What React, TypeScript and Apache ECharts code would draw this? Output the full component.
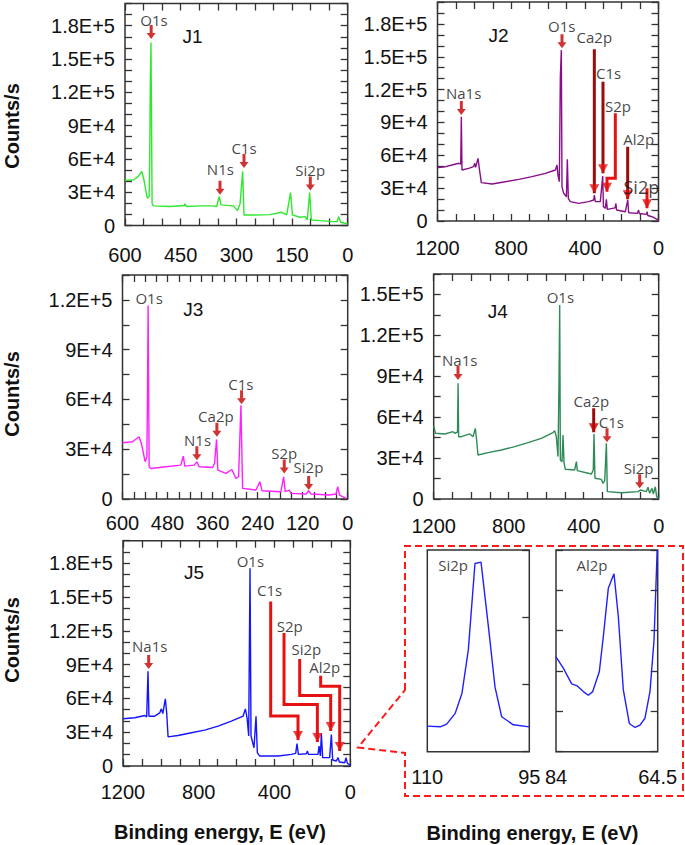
import React, { useEffect, useRef } from 'react';
import * as echarts from 'echarts';

// ---------------- DATA ----------------
// Survey spectra: [binding energy (eV), counts/s]
const j1Spectrum: [number, number][] = [
  [600, 40600], [577, 41200], [564, 44200], [555, 48800], [549, 41200], [540, 24600], [535, 26100],
  [533.6, 56300], [531.8, 128800], [530, 164900], [527, 20100], [523.7, 17700], [479, 17100], [440, 18000],
  [438.4, 19500], [434, 17100], [398, 17700], [362, 17700], [353, 17100], [346, 26100], [341.4, 18600],
  [308, 17700], [297, 13500], [290, 19500], [283, 48800], [279.4, 9500], [254, 9500], [209, 9800],
  [178, 11900], [164.5, 9500], [154, 29700], [149, 9500], [128.6, 7400], [115, 8000], [109, 5000],
  [102.5, 29700], [98, 5000], [74.7, 4400], [39, 3500], [28, 3500], [24.4, 8000], [19, 2900], [0, 1400],
];
const j2Spectrum: [number, number][] = [
  [1199, 48700], [1157, 49600], [1121, 51100], [1085, 52700], [1074, 52000], [1070.6, 95300], [1067, 46600],
  [1031, 48100], [1004, 49600], [998, 52700], [993, 49000], [980, 57200], [973, 48100], [962, 35000],
  [904, 33800], [832, 35900], [759, 38000], [687, 40500], [614, 43500], [560, 46600], [551, 51100],
  [546, 42000], [538.5, 35900], [533, 131800], [527.6, 156200], [524, 31300], [515, 25300], [500, 22200],
  [495, 56300], [489.6, 20700], [479, 17700], [433, 16100], [379, 17700], [352, 19200], [348.4, 23700],
  [343, 17700], [316, 17700], [303, 41100], [299, 13100], [288.7, 11600], [283, 19800], [278, 10600],
  [236, 12000], [231, 16000], [228, 10000], [180, 8500], [167, 19200], [162, 7600], [115, 7000],
  [108, 10000], [104, 6800], [65, 6000], [62, 8500], [58, 5000], [35, 3900], [0, 900],
];
const j3Spectrum: [number, number][] = [
  [600, 33900], [573.5, 34500], [555.7, 37500], [548.6, 32500], [539.7, 22500], [535, 25500], [533.4, 63500],
  [531.7, 116600], [529, 19400], [524.6, 18400], [484.6, 19400], [444.5, 20400], [438, 25800], [434, 19800],
  [409, 20400], [402, 22400], [395.7, 19400], [360, 19000], [354.8, 21400], [349.4, 35900], [346, 17400],
  [324.5, 15400], [308.5, 17800], [298, 12400], [290.7, 13400], [284.5, 56500], [280, 6400], [244.5, 5400],
  [234, 10400], [228.5, 5000], [178, 4400], [170.7, 13400], [166.3, 4400], [155.6, 5400], [151, 3400],
  [111, 3000], [104, 5000], [98, 3000], [49, 2400], [31, 3000], [26.7, 7400], [22, 2400], [4.5, 400],
];
const j4Spectrum: [number, number][] = [
  [1200, 53600], [1191, 48200], [1141, 47700], [1097, 49400], [1088, 48200], [1073, 49000], [1070, 84800],
  [1067, 45700], [1052, 45700], [1008, 47700], [990, 45700], [978, 51800], [971, 43300], [964, 32300],
  [910, 34000], [839, 35900], [768, 38400], [697, 41300], [626, 44500], [564, 48700], [555, 50100],
  [546, 45700], [537, 31100], [532, 83600], [528, 142300], [524.5, 28600], [515.6, 27400], [510.3, 47000],
  [505, 26600], [498, 21800], [448, 21300], [439, 27400], [434, 20800], [359, 18300], [349, 21300],
  [345, 47700], [340, 15200], [306, 14400], [297, 11500], [288, 13400], [279, 40800], [274, 5400],
  [199, 4600], [110, 5400], [98, 6600], [66, 5400], [57, 8600], [48, 4200], [35.6, 7800], [28.5, 3700],
  [18, 9000], [11, 1700], [0, 500],
];
const j5Spectrum: [number, number][] = [
  [1200, 41900], [1138, 42800], [1085, 44800], [1075, 43500], [1068, 84100], [1063, 44200], [1033, 44200],
  [1006, 47200], [997.6, 50700], [990, 46500], [976.5, 59600], [969.4, 47200], [962, 25900], [909.6, 27100],
  [839, 29500], [769, 31900], [698, 35400], [628, 39800], [566, 44200], [554, 50700], [545, 42800],
  [536.4, 26600], [533, 100300], [529.4, 175500], [524.2, 26600], [508.3, 16200], [497.8, 44200],
  [490.7, 11800], [478.4, 8850], [381.6, 8850], [311.2, 10300], [288.3, 11200], [281.3, 20000],
  [274.2, 10300], [232, 10900], [226.7, 13300], [221, 10300], [170.4, 10300], [165, 17700], [158, 8850],
  [152.8, 28900], [145.8, 7400], [109, 7400], [100, 28000], [93, 5300], [73.6, 4400], [64.8, 7400],
  [57.8, 3500], [29.6, 2900], [22.6, 7400], [15.5, 2400], [0, 600],
];

// High-resolution insets (arbitrary units)
const si2pInset: [number, number][] = [
  [110, 0.38], [108.1, 0.37], [107.15, 0.41], [105.9, 0.57], [104.9, 0.87], [103.97, 1.51], [102.99, 2.8],
  [102.1, 2.82], [101.0, 1.85], [100.04, 0.96], [99.06, 0.52], [97.35, 0.4], [95, 0.37],
];
const al2pInset: [number, number][] = [
  [84, 2.35], [82.6, 2.07], [80.99, 1.68], [80.03, 1.64], [78.76, 1.49], [77.8, 1.4], [76.96, 1.49],
  [75.7, 1.98], [74.93, 2.85], [73.97, 4.05], [72.88, 4.41], [72.05, 3.35], [71.09, 1.53], [69.94, 0.7],
  [68.85, 0.6], [67.9, 0.66], [66.94, 0.83], [65.98, 1.49], [65.2, 2.77], [64.6, 5.0],
];

// Peak labels: [text, energy, counts] (text centre)
type Lbl = [string, number, number, number?];
const j1Labels: Lbl[] = [['O1s', 522, 185500], ['N1s', 343, 50900], ['C1s', 279.4, 69900], ['Si2p', 101, 50300]];
const j2Labels: Lbl[] = [
  ['Na1s', 1058, 116600], ['O1s', 525.8, 178100], ['Ca2p', 348.4, 167700], ['C1s', 270.6, 135500],
  ['S2p', 220, 105000], ['Al2p', 107.7, 74600], ['Si2p', 93.2, 30700, 18],
];
const j3Labels: Lbl[] = [
  ['O1s', 529, 121400], ['N1s', 400, 35300], ['Ca2p', 351.2, 50100], ['C1s', 284.5, 69500],
  ['S2p', 169, 27900], ['Si2p', 104.5, 19000],
];
const j4Labels: Lbl[] = [['Na1s', 1061.5, 102000], ['O1s', 524.5, 148400], ['Ca2p', 359, 72100], ['C1s', 252.5, 56700], ['Si2p', 107, 22500]];
const j5Labels: Lbl[] = [
  ['Na1s', 1059.2, 106200], ['O1s', 527.7, 182300], ['C1s', 425.6, 156300], ['S2p', 320, 124500],
  ['Si2p', 232, 104000], ['Al2p', 135.2, 87800],
];
const si2pInsetLabels: Lbl[] = [['Si2p', 106.2, 2.78]];
const al2pInsetLabels: Lbl[] = [['Al2p', 77.1, 4.63]];

// Short arrows: tip at [energy, counts]
const j1Arrows: [number, number][] = [[529.5, 168000], [344, 27600], [279.4, 51800], [100.7, 31600]];
const j2Arrows: [number, number][] = [[1070.6, 96800], [524, 157700]];
const j3Arrows: [number, number][] = [[401.9, 23400], [348.5, 37500], [282.8, 57100], [169, 15400], [104, 5400]];
const j4Arrows: [number, number][] = [[1070.4, 87300], [275.6, 41600], [101.4, 7800]];
const j5Arrows: [number, number][] = [[1064.5, 86100]];

// Leader lines ending in an arrow head (last point = tip)
const j2Leaders: [number, number][][] = [
  [[348.4, 156800], [348.4, 25300]],
  [[301.4, 127200], [301.4, 43500]],
  [[234.4, 98300], [234.4, 39000], [279.7, 39000], [279.7, 26800]],
  [[167.4, 67900], [167.4, 19800]],
  [[62.4, 29800], [62.4, 11600]],
];
const j4Leaders: [number, number][][] = [[[346.7, 66500], [346.7, 48900]]];
const j5Leaders: [number, number][][] = [
  [[420.3, 146000], [420.3, 44300], [276, 44300], [276, 23000]],
  [[349.9, 118000], [349.9, 54600], [173.9, 54600], [173.9, 21200]],
  [[267.2, 95000], [267.2, 62500], [103.5, 62500], [103.5, 31000]],
  [[156.4, 80200], [156.4, 70800], [56, 70800], [56, 13300]],
];

// ---------------- STYLE / LAYOUT ----------------
const AXIS_FONT = '"Liberation Sans", Arial, sans-serif';
const PEAK_FONT = '"Open Sans", "Noto Sans", sans-serif';
const TEXT_COLOR = '#111111';
const DARK_RED = '#9a0b0b';
const RED = '#e61212';
const ARROW_RED = '#c40000';
const ARROW_PATH = 'path://M3,0 L6,0 L6,8 L9,8 L4.5,14 L0,8 L3,8 Z';
const HEAD_PATH = 'path://M0,0 L10,0 L5,9 Z';

interface Panel {
  grid: { left: number; top: number; width: number; height: number };
  xMax: number; xTick: number; xLabelStep: number; xMargin: number;
  yMax: number; yTick: number;
  color: string;
  spectrum: [number, number][];
  labels: Lbl[];
  arrows: [number, number][];
  leaders: [number, number][][];
  leaderColors: string[];
  headColors: string[];
}

const panels: Panel[] = [
  {
    grid: { left: 125, top: 3.5, width: 222.7, height: 222 }, xMax: 600, xTick: 50, xLabelStep: 150, xMargin: 19,
    yMax: 200000, yTick: 10000, color: '#2ee82e', spectrum: j1Spectrum, labels: j1Labels, arrows: j1Arrows,
    leaders: [], leaderColors: [], headColors: [],
  },
  {
    grid: { left: 437.5, top: 2, width: 221, height: 219 }, xMax: 1200, xTick: 100, xLabelStep: 400, xMargin: 17,
    yMax: 200000, yTick: 10000, color: '#880f88', spectrum: j2Spectrum, labels: j2Labels, arrows: j2Arrows,
    leaders: j2Leaders, leaderColors: [DARK_RED, DARK_RED, RED, DARK_RED, RED], headColors: [RED, RED, RED, RED, RED],
  },
  {
    grid: { left: 122.5, top: 275, width: 225.2, height: 224 }, xMax: 600, xTick: 30, xLabelStep: 120, xMargin: 14,
    yMax: 135000, yTick: 15000, color: '#ff1fff', spectrum: j3Spectrum, labels: j3Labels, arrows: j3Arrows,
    leaders: [], leaderColors: [], headColors: [],
  },
  {
    grid: { left: 433.7, top: 274, width: 225, height: 225 }, xMax: 1200, xTick: 100, xLabelStep: 400, xMargin: 17,
    yMax: 165000, yTick: 15000, color: '#2e8b57', spectrum: j4Spectrum, labels: j4Labels, arrows: j4Arrows,
    leaders: j4Leaders, leaderColors: [DARK_RED], headColors: [ARROW_RED],
  },
  {
    grid: { left: 123, top: 540.7, width: 227.3, height: 225.3 }, xMax: 1200, xTick: 100, xLabelStep: 400, xMargin: 16,
    yMax: 200000, yTick: 10000, color: '#1414ff', spectrum: j5Spectrum, labels: j5Labels, arrows: j5Arrows,
    leaders: j5Leaders, leaderColors: [RED, RED, RED, RED], headColors: [RED, RED, RED, RED],
  },
];

const panelTitles: [string, number, number][] = [
  ['J1', 192.5, 36], ['J2', 498.5, 35], ['J3', 193.3, 309.5], ['J4', 497.7, 311.7], ['J5', 194, 572.7],
];

function fmtY(v: number): string {
  const r = Math.round(v);
  if (r % 30000 !== 0) return '';
  if (r === 0) return '0';
  const e = Math.floor(Math.log10(r));
  const m = r / Math.pow(10, e);
  return `${+m.toFixed(2)}E+${e}`;
}

const tick = (len = 7) => ({ show: true, inside: true, length: len, lineStyle: { color: '#333', width: 1.3 } });

function buildOption() {
  const grids: any[] = [];
  const xAxes: any[] = [];
  const yAxes: any[] = [];
  const series: any[] = [];

  const labelSeries = (xi: number, yi: number, labels: Lbl[]) => ({
    type: 'scatter', xAxisIndex: xi, yAxisIndex: yi, symbolSize: 1, silent: true, z: 6,
    itemStyle: { color: 'rgba(0,0,0,0)' },
    label: {
      show: true, position: 'inside', formatter: '{b}', color: TEXT_COLOR, fontSize: 15, lineHeight: 15,
      fontFamily: PEAK_FONT,
    },
    data: labels.map(([n, e, c, fs]) => ({
      name: n, value: [e, c], label: fs ? { fontSize: fs, lineHeight: fs } : undefined,
    })),
  });

  panels.forEach((p, i) => {
    grids.push({ ...p.grid, show: true, borderColor: '#333', borderWidth: 1.5, containLabel: false, outerBoundsMode: 'none' });
    const xi = xAxes.length;
    const yi = yAxes.length;
    const xBase = {
      type: 'value', gridIndex: i, min: 0, max: p.xMax, interval: p.xTick, inverse: true,
      axisLine: { show: false, onZero: false }, axisTick: tick(), splitLine: { show: false },
    };
    xAxes.push({
      ...xBase, position: 'bottom',
      axisLabel: {
        show: true, margin: p.xMargin, fontSize: 20, fontFamily: AXIS_FONT, color: TEXT_COLOR, hideOverlap: false,
        formatter: (v: number) => (Math.round(v) % p.xLabelStep === 0 ? String(Math.round(v)) : ''),
      },
    });
    xAxes.push({ ...xBase, position: 'top', axisLabel: { show: false } });
    const yBase = {
      type: 'value', gridIndex: i, min: 0, max: p.yMax, interval: p.yTick,
      axisLine: { show: false, onZero: false }, axisTick: tick(), splitLine: { show: false },
    };
    yAxes.push({
      ...yBase, position: 'left',
      axisLabel: { show: true, margin: 10, fontSize: 20, fontFamily: AXIS_FONT, color: TEXT_COLOR, formatter: fmtY },
    });
    yAxes.push({ ...yBase, position: 'right', axisLabel: { show: false } });

    series.push({
      type: 'line', xAxisIndex: xi, yAxisIndex: yi, data: p.spectrum, symbol: 'none', z: 2,
      lineStyle: { color: p.color, width: 1.4 }, silent: true,
    });
    p.leaders.forEach((pts, k) => {
      series.push({
        type: 'line', xAxisIndex: xi, yAxisIndex: yi, data: pts, symbol: 'none', z: 3, silent: true,
        lineStyle: { color: p.leaderColors[k], width: 3, cap: 'butt', join: 'miter' },
      });
    });
    if (p.leaders.length) {
      series.push({
        type: 'scatter', xAxisIndex: xi, yAxisIndex: yi, z: 4, silent: true,
        symbol: HEAD_PATH, symbolSize: [10, 9], symbolOffset: [0, '-50%'],
        data: p.leaders.map((pts, k) => ({ value: pts[pts.length - 1], itemStyle: { color: p.headColors[k] } })),
      });
    }
    if (p.arrows.length) {
      series.push({
        type: 'scatter', xAxisIndex: xi, yAxisIndex: yi, z: 4, silent: true,
        symbol: ARROW_PATH, symbolSize: [9, 14], symbolOffset: [0, '-50%'],
        itemStyle: { color: ARROW_RED }, data: p.arrows,
      });
    }
    series.push(labelSeries(xi, yi, p.labels));
  });

  // Insets
  const insets = [
    { grid: { left: 427.3, top: 550, width: 102, height: 201.7 }, min: 95, max: 110, yMax: 3, left: false, data: si2pInset, labels: si2pInsetLabels },
    { grid: { left: 556, top: 550, width: 101.7, height: 201.7 }, min: 64.5, max: 84, yMax: 5, left: true, data: al2pInset, labels: al2pInsetLabels },
  ];
  insets.forEach((ins) => {
    const gi = grids.length;
    grids.push({ ...ins.grid, show: true, borderColor: '#333', borderWidth: 1.5, containLabel: false, outerBoundsMode: 'none' });
    const xi = xAxes.length;
    const yi = yAxes.length;
    xAxes.push({
      type: 'value', gridIndex: gi, min: ins.min, max: ins.max, interval: ins.max - ins.min, inverse: true, position: 'bottom',
      axisLine: { show: false, onZero: false }, axisTick: { show: false }, splitLine: { show: false },
      axisLabel: { show: true, margin: 15, fontSize: 20, fontFamily: AXIS_FONT, color: TEXT_COLOR, formatter: (v: number) => String(+v.toFixed(1)) },
    });
    yAxes.push({
      type: 'value', gridIndex: gi, min: 0, max: ins.yMax, interval: 1, position: 'right',
      axisLine: { show: false, onZero: false }, axisTick: tick(), splitLine: { show: false }, axisLabel: { show: false },
    });
    if (ins.left) {
      yAxes.push({
        type: 'value', gridIndex: gi, min: 0, max: ins.yMax, interval: 1, position: 'left',
        axisLine: { show: false, onZero: false }, axisTick: tick(), splitLine: { show: false }, axisLabel: { show: false },
      });
    }
    series.push({
      type: 'line', xAxisIndex: xi, yAxisIndex: yi, data: ins.data, symbol: 'none', z: 2, silent: true,
      lineStyle: { color: '#1f1fff', width: 1.4 },
    });
    series.push(labelSeries(xi, yi, ins.labels));
  });

  const textEl = (text: string, x: number, y: number, size: number, bold: boolean, rotation = 0) => ({
    type: 'text', x, y, rotation, silent: true,
    style: {
      text, fill: TEXT_COLOR, fontSize: size, fontWeight: bold ? 'bold' : 'normal', fontFamily: AXIS_FONT,
      textAlign: 'center', textVerticalAlign: 'middle', align: 'center', verticalAlign: 'middle',
    },
  });

  const graphic: any[] = [
    {
      type: 'polygon', silent: true,
      shape: { points: [[405, 690], [405, 546], [683, 546], [683, 796], [405, 796], [405, 753], [358, 747.5]] },
      style: { fill: 'none', stroke: '#ff1a1a', lineWidth: 2, lineDash: [7, 4] },
    },
    textEl('Counts/s', 12, 126, 20, true, Math.PI / 2),
    textEl('Counts/s', 12, 394, 20, true, Math.PI / 2),
    textEl('Counts/s', 12, 640, 20, true, Math.PI / 2),
    textEl('Binding energy, E (eV)', 220, 832, 20, true),
    textEl('Binding energy, E (eV)', 532.5, 833, 20, true),
    ...panelTitles.map(([t, x, y]) => textEl(t, x, y, 19, false)),
  ];

  return {
    animation: false,
    backgroundColor: '#ffffff',
    textStyle: { fontFamily: AXIS_FONT },
    grid: grids,
    xAxis: xAxes,
    yAxis: yAxes,
    series,
    graphic,
  };
}

export default function App() {
  const ref = useRef<HTMLDivElement>(null);
  useEffect(() => {
    if (!ref.current) return;
    const chart = echarts.init(ref.current, null, { renderer: 'svg' });
    chart.setOption(buildOption() as any);
    return () => chart.dispose();
  }, []);
  return (
    <div
      ref={ref}
      style={{ position: 'absolute', left: 0, top: 0, width: 685, height: 845, background: '#fff' }}
    />
  );
}
